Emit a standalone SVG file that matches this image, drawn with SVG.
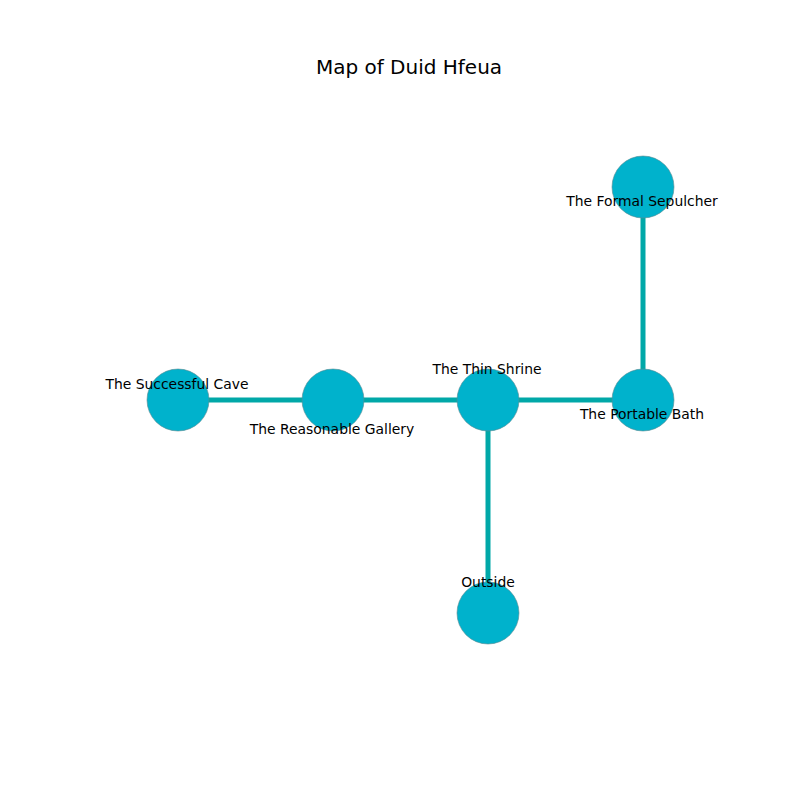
<svg xmlns="http://www.w3.org/2000/svg" width="800" height="800" viewBox="0 0 800 800">
<style>
.edge{stroke:#00a8a8;stroke-width:5;fill:none}
.node circle{fill:#00b2cc;stroke:#5a8a90;stroke-width:0.6}
.lbl{font-family:"DejaVu Sans",sans-serif;font-size:13.9px;fill:#000;text-anchor:middle;dominant-baseline:central}
.title{font-family:"DejaVu Sans",sans-serif;font-size:20px;fill:#000;text-anchor:middle;dominant-baseline:central}
</style>
<rect width="800" height="800" fill="#fff"/>
<text class="title" x="409" y="67">Map of Duid Hfeua</text>
<g id="connectors">
<line class="edge" x1="178" y1="400" x2="333" y2="400"/>
<line class="edge" x1="333" y1="400" x2="488" y2="400"/>
<line class="edge" x1="488" y1="400" x2="643" y2="400"/>
<line class="edge" x1="643" y1="400" x2="643" y2="187"/>
<line class="edge" x1="488" y1="400" x2="488" y2="613"/>
</g>
<g id="n-cave" class="node"><circle cx="178" cy="400" r="31"/></g>
<g id="n-gallery" class="node"><circle cx="333" cy="400" r="31"/></g>
<g id="n-shrine" class="node"><circle cx="488" cy="400" r="31"/></g>
<g id="n-bath" class="node"><circle cx="643" cy="400" r="31"/></g>
<g id="n-sepulcher" class="node"><circle cx="643" cy="187" r="31"/></g>
<g id="n-outside" class="node"><circle cx="488" cy="613" r="31"/></g>
<g id="labels">
<text class="lbl" x="177" y="384">The Successful Cave</text>
<text class="lbl" x="332" y="429">The Reasonable Gallery</text>
<text class="lbl" x="487" y="369">The Thin Shrine</text>
<text class="lbl" x="642" y="414">The Portable Bath</text>
<text class="lbl" x="642" y="201">The Formal Sepulcher</text>
<text class="lbl" x="488" y="582">Outside</text>
</g>
</svg>
